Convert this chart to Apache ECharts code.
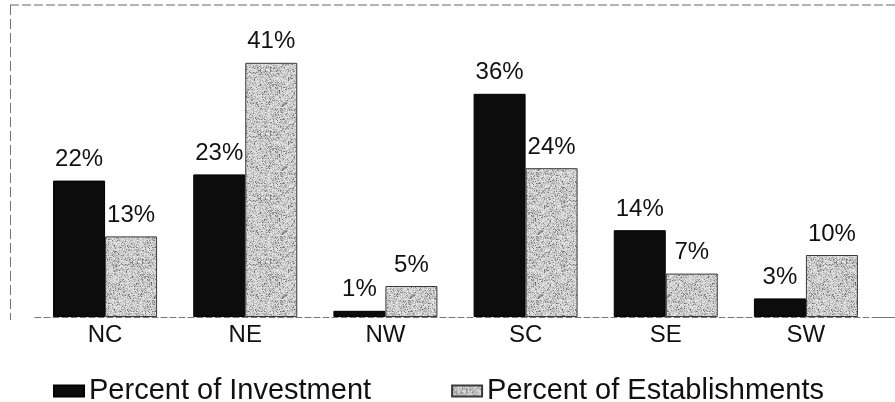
<!DOCTYPE html>
<html>
<head>
<meta charset="utf-8">
<script src="https://cdn.jsdelivr.net/npm/echarts@6/dist/echarts.min.js"></script>
<style>
  html, body { margin: 0; padding: 0; background: #fff; }
  #chart { width: 895px; height: 402px; }
</style>
</head>
<body>
<div id="chart"></div>
<script>
// Regional shares, in percent
const regions = ['NC', 'NE', 'NW', 'SC', 'SE', 'SW'];
const investmentPct = [22, 23, 1, 36, 14, 3];
const establishmentPct = [13, 41, 5, 24, 7, 10];
const seriesNames = ['Percent of Investment', 'Percent of Establishments'];

// Stippled grey tile for the establishments bars (deterministic LCG speckle)
function makeStippleTile() {
  const size = 64;
  const c = document.createElement('canvas');
  c.width = size; c.height = size;
  const ctx = c.getContext('2d');
  const img = ctx.createImageData(size, size);
  let s = 12345;
  for (let i = 0; i < size * size; i++) {
    s = (s * 1103515245 + 12345) & 0x7fffffff;
    const r = (s >> 8) % 100;
    let g;
    if (r < 12) g = 110 + (r * 4);
    else if (r < 40) g = 170 + (r % 20);
    else g = 200 + (r % 35);
    img.data[i * 4] = g;
    img.data[i * 4 + 1] = g;
    img.data[i * 4 + 2] = g;
    img.data[i * 4 + 3] = 255;
  }
  ctx.putImageData(img, 0, 0);
  return c;
}
const stipple = { image: makeStippleTile(), repeat: 'repeat' };

const FONT = '"Liberation Sans", Arial, sans-serif';

const chart = echarts.init(document.getElementById('chart'), null, { renderer: 'canvas' });

const valueLabel = {
  show: true,
  position: 'top',
  distance: 9,
  formatter: p => p.value + '%',
  color: '#111',
  fontFamily: FONT,
  fontSize: 24
};

chart.setOption({
  animation: false,
  backgroundColor: '#fff',
  grid: { left: 35, right: 19, top: 38, bottom: 85 },
  legend: {
    left: 53,
    top: 376,
    padding: 0,
    itemWidth: 30,
    itemHeight: 11,
    itemGap: 80,
    icon: 'rect',
    textStyle: { fontFamily: FONT, fontSize: 29, color: '#111', lineHeight: 30 },
    data: seriesNames
  },
  xAxis: {
    type: 'category',
    data: regions,
    axisTick: { show: false },
    axisLine: { show: true, lineStyle: { color: '#777', width: 1, type: [6, 3] } },
    axisLabel: { color: '#111', fontFamily: FONT, fontSize: 24, margin: 6 }
  },
  yAxis: {
    type: 'value',
    min: 0,
    max: 45,
    show: false,
    splitLine: { show: false }
  },
  graphic: [
    { type: 'line', shape: { x1: 10, y1: 5, x2: 895, y2: 5 }, style: { stroke: '#666', lineWidth: 1, lineDash: [9, 3] }, silent: true },
    { type: 'line', shape: { x1: 10.5, y1: 5, x2: 10.5, y2: 320 }, style: { stroke: '#777', lineWidth: 1, lineDash: [10, 4] }, silent: true },
    { type: 'line', shape: { x1: 876, y1: 317.5, x2: 895, y2: 317.5 }, style: { stroke: '#777', lineWidth: 1 }, silent: true }
  ],
  series: [
    {
      name: seriesNames[0],
      type: 'bar',
      data: investmentPct,
      barWidth: 52,
      barGap: '0%',
      itemStyle: { color: '#0c0c0c', borderColor: '#000', borderWidth: 1 },
      label: valueLabel
    },
    {
      name: seriesNames[1],
      type: 'bar',
      data: establishmentPct,
      barWidth: 52,
      barGap: '0%',
      itemStyle: { color: stipple, borderColor: '#3a3a3a', borderWidth: 1 },
      label: valueLabel
    }
  ]
});
</script>
</body>
</html>
